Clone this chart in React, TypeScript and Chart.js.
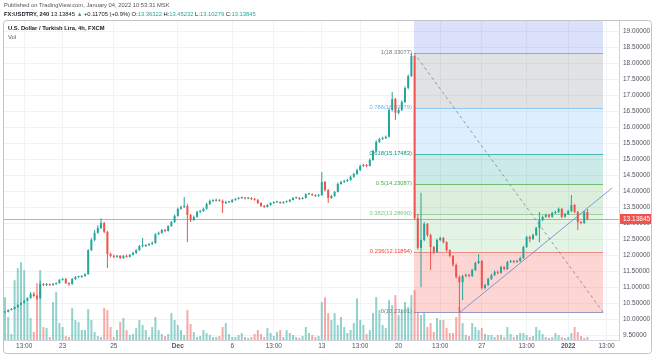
import React, { useEffect, useRef } from "react";
import { Chart, registerables } from "chart.js";
Chart.register(...registerables);

const FONT = '"Liberation Sans", Arial, Helvetica, sans-serif';

// ---- candle data (4h candles, index = candle number) ----
const firstOpen = 10.22;
const closes = [
  10.24, 10.30, 10.33, 10.39, 10.46, 10.52, 10.58, 10.67, 10.80, 10.74,
  10.67, 11.11, 11.08, 11.11, 11.08, 11.11, 11.14, 11.24, 11.27, 11.14,
  11.11, 11.27, 11.33, 11.33, 11.36, 11.42, 12.17, 12.49, 12.71, 12.86,
  13.02, 12.74, 12.05, 11.99, 11.96, 11.99, 11.92, 11.99, 11.96, 12.02,
  12.08, 12.17, 12.30, 12.30, 12.33, 12.36, 12.39, 12.67, 12.71, 12.80,
  12.77, 12.92, 13.05, 13.24, 13.46, 13.52, 13.55, 13.27, 13.11, 13.21,
  13.36, 13.39, 13.46, 13.61, 13.71, 13.71, 13.74, 13.71, 13.64, 13.67,
  13.67, 13.74, 13.77, 13.80, 13.80, 13.78, 13.80, 13.77, 13.74, 13.64,
  13.55, 13.52, 13.58, 13.64, 13.67, 13.67, 13.64, 13.67, 13.69, 13.74,
  13.80, 13.80, 13.77, 13.80, 13.92, 13.92, 13.89, 13.86, 13.89, 14.30,
  14.05, 13.80, 13.86, 13.99, 14.24, 14.30, 14.33, 14.36, 14.46, 14.55,
  14.67, 14.80, 14.83, 14.80, 14.99, 15.27, 15.55, 15.64, 15.67, 15.71,
  16.55, 16.89, 16.46, 16.55, 16.80, 17.24, 17.61, 18.24, 13.17, 12.24,
  12.49, 12.99, 12.64, 12.27, 12.11, 12.49, 12.55, 12.42, 12.17, 11.99,
  11.71, 11.33, 11.17, 11.36, 11.39, 11.36, 11.55, 11.77, 11.83, 10.99,
  11.08, 11.27, 11.39, 11.49, 11.46, 11.64, 11.58, 11.80, 11.83, 11.80,
  11.83, 11.92, 12.27, 12.58, 12.52, 12.64, 12.86, 13.11, 13.21, 13.27,
  13.21, 13.33, 13.36, 13.46, 13.21, 13.30, 13.39, 13.58, 13.36, 13.05,
  13.02, 13.36322, 13.13845,
];
const highs = [
  10.27, 10.32, 10.36, 10.41, 10.48, 10.55, 10.61, 10.70, 10.86, 10.86,
  10.77, 11.21, 11.14, 11.14, 11.13, 11.14, 11.17, 11.27, 11.30, 11.30,
  11.17, 11.30, 11.36, 11.37, 11.39, 11.45, 12.20, 12.55, 12.80, 12.95,
  13.17, 13.05, 12.77, 12.10, 12.03, 12.02, 12.02, 12.02, 12.03, 12.05,
  12.12, 12.20, 12.33, 12.55, 12.36, 12.40, 12.45, 12.70, 12.75, 12.84,
  12.83, 12.95, 13.08, 13.28, 13.50, 13.56, 13.83, 13.62, 13.30, 13.25,
  13.40, 13.43, 13.50, 13.65, 13.75, 13.75, 13.78, 13.77, 13.75, 13.71,
  13.71, 13.77, 13.80, 13.83, 13.84, 13.83, 13.83, 13.83, 13.80, 13.77,
  13.67, 13.58, 13.61, 13.67, 13.70, 13.71, 13.70, 13.70, 13.72, 13.77,
  13.83, 13.84, 13.83, 13.83, 13.95, 13.96, 13.95, 13.92, 13.93, 14.61,
  14.33, 14.08, 13.90, 14.02, 14.28, 14.34, 14.37, 14.40, 14.50, 14.59,
  14.71, 14.84, 14.87, 14.86, 15.03, 15.31, 15.60, 15.68, 15.71, 15.75,
  16.60, 17.11, 16.93, 16.60, 16.85, 17.29, 17.66, 18.33077, 18.26, 13.30,
  13.96, 13.05, 13.02, 12.68, 12.30, 12.53, 12.60, 12.58, 12.45, 12.20,
  12.02, 11.75, 11.38, 11.40, 11.44, 11.43, 11.59, 11.81, 12.05, 11.86,
  11.12, 11.31, 11.43, 11.53, 11.53, 11.68, 11.67, 11.84, 11.87, 11.86,
  11.87, 11.96, 12.31, 12.62, 12.62, 12.68, 12.90, 13.36, 13.25, 13.31,
  13.30, 13.37, 13.40, 13.50, 13.49, 13.34, 13.43, 13.89, 13.61, 13.39,
  13.08, 13.40, 13.45232,
];
const lows = [
  10.20, 10.22, 10.28, 10.31, 10.37, 10.44, 10.50, 10.56, 10.65, 10.70,
  10.61, 10.64, 11.04, 11.05, 11.05, 11.06, 11.09, 11.12, 11.21, 11.11,
  11.05, 11.09, 11.24, 11.30, 11.31, 11.34, 11.40, 12.14, 12.45, 12.68,
  12.83, 12.70, 11.61, 11.95, 11.92, 11.93, 11.89, 11.90, 11.93, 11.94,
  12.00, 12.05, 12.14, 12.26, 12.27, 12.30, 12.33, 12.37, 12.64, 12.68,
  12.73, 12.75, 12.90, 13.02, 13.21, 13.43, 13.49, 12.42, 13.05, 13.08,
  13.18, 13.33, 13.36, 13.44, 13.58, 13.67, 13.69, 13.68, 13.33, 13.61,
  13.64, 13.65, 13.71, 13.75, 13.77, 13.75, 13.76, 13.74, 13.71, 13.61,
  13.52, 13.49, 13.50, 13.56, 13.62, 13.64, 13.61, 13.62, 13.65, 13.67,
  13.72, 13.77, 13.74, 13.75, 13.78, 13.89, 13.86, 13.83, 13.84, 13.87,
  14.00, 13.64, 13.77, 13.84, 13.97, 14.21, 14.27, 14.30, 14.34, 14.43,
  14.52, 14.64, 14.77, 14.76, 14.78, 14.96, 15.24, 15.52, 15.61, 15.64,
  15.69, 16.50, 16.24, 16.42, 16.52, 16.77, 17.20, 17.58, 13.11, 12.18,
  11.02, 12.45, 12.58, 11.55, 12.05, 12.08, 12.45, 12.38, 12.12, 11.95,
  11.66, 11.28, 10.23101, 10.61, 11.32, 11.32, 11.33, 11.52, 11.74, 10.93,
  10.95, 11.05, 11.24, 11.36, 11.42, 11.43, 11.54, 11.55, 11.77, 11.76,
  11.77, 11.80, 11.89, 12.24, 12.42, 12.49, 12.61, 12.42, 13.08, 13.18,
  13.17, 13.18, 13.30, 13.33, 13.17, 13.18, 13.27, 13.36, 13.32, 12.80,
  12.98, 12.99, 13.10279,
];
const volumes = [
  43, 23, 6, 60, 72, 78, 70, 38, 22, 8,
  57, 70, 13, 12, 3, 38, 48, 17, 13, 4,
  3, 32, 20, 18, 10, 10, 31, 20, 8, 4,
  3, 32, 30, 13, 3, 10, 18, 22, 10, 5,
  6, 12, 20, 15, 10, 3, 13, 23, 10, 6,
  4, 6, 27, 20, 15, 10, 5, 30, 16, 8,
  3, 4, 10, 7, 5, 3, 3, 4, 13, 17,
  6, 3, 3, 5, 7, 3, 2, 3, 6, 10,
  6, 3, 12, 7, 4, 8, 10, 3, 10, 7,
  5, 3, 2, 4, 13, 7, 5, 3, 4, 38,
  43, 27, 20, 27, 15, 23, 13, 7, 10, 17,
  42, 20, 15, 6, 10, 27, 43, 30, 15, 12,
  40, 35, 45, 25, 30, 38, 33, 45, 50, 27,
  25, 27, 13, 17, 8, 22, 20, 20, 12, 7,
  7, 23, 33, 17, 5, 4, 17, 13, 10, 12,
  6, 5, 5, 3, 5, 5, 3, 13, 6, 3,
  5, 7, 7, 5, 3, 4, 13, 10, 6, 3,
  2, 3, 7, 5, 3, 2, 3, 7, 13, 8,
  4, 2, 3,
];
const opens = closes.map((c, i) => (i === 0 ? firstOpen : closes[i - 1]));

// ---- axes ----
const timeTickIndex = [6, 18, 34, 54, 71, 84, 99, 111, 123, 136, 149, 163, 176, 188];
const timeTickLabels = ["13:00", "23", "25", "Dec", "6", "13:00", "13", "13:00", "20", "13:00", "27", "13:00", "2022", "13:00"];
const boldTimeLabels = ["Dec", "2022"];
const priceTicks = [9.5, 10, 10.5, 11, 11.5, 12, 12.5, 13, 13.5, 14, 14.5, 15, 15.5, 16, 16.5, 17, 17.5, 18, 18.5, 19];
const priceMin = 9.362;
const priceMax = 19.33;
const indexMin = -0.3125;
const indexMax = 191.875;
const volumeMax = 320;

// ---- drawings ----
const fibRatios = [0, 0.236, 0.382, 0.5, 0.618, 0.786, 1];
const fibPrices = [10.23101, 12.11894, 13.2869, 14.23087, 15.17483, 16.59779, 18.33077];
const fibExtensionPrice = 23.3366;
const fibStartIndex = 127.8;
const fibEndIndex = 186.9;
const trendStart = { x: 142.2, y: 10.23101 };
const trendEnd = { x: 189.7, y: 14.11 };
const lastPrice = 13.13845;

const fibBandColors = [
  "rgba(244,67,54,0.22)",
  "rgba(129,199,132,0.22)",
  "rgba(76,175,80,0.2)",
  "rgba(0,150,136,0.2)",
  "rgba(100,181,246,0.22)",
  "rgba(120,123,134,0.22)",
  "rgba(75,105,230,0.2)",
];
const fibLineColors = ["#9598c0", "#f08a85", "#9fd0a1", "#6fbf73", "#4db6ac", "#90c8f5", "#9aa3d8"];
const fibTextColors = ["#787b86", "#f44336", "#81c784", "#4caf50", "#009688", "#64b5f6", "#787b86"];

const UP = "#26a69a";
const DOWN = "#ef5350";
const UP_VOL = "rgba(38,166,154,0.5)";
const DOWN_VOL = "rgba(239,83,80,0.5)";

const overlayPlugin = {
  id: "tvOverlays",
  beforeDatasetsDraw(chart: any) {
    const { ctx, chartArea: a, scales } = chart;
    const xs = scales.x;
    const ys = scales.y;
    ctx.save();
    ctx.beginPath();
    ctx.rect(a.left, a.top, a.right - a.left, a.bottom - a.top);
    ctx.clip();
    const x1 = xs.getPixelForValue(fibStartIndex);
    const x2 = xs.getPixelForValue(fibEndIndex);
    const lv = [...fibPrices, fibExtensionPrice];
    for (let k = 0; k < lv.length - 1; k++) {
      const yLo = ys.getPixelForValue(lv[k]);
      const yHi = ys.getPixelForValue(lv[k + 1]);
      ctx.fillStyle = fibBandColors[k];
      ctx.fillRect(x1, yHi, x2 - x1, yLo - yHi);
    }
    ctx.lineWidth = 1;
    ctx.font = `5.8px ${FONT}`;
    ctx.textAlign = "right";
    ctx.textBaseline = "bottom";
    fibPrices.forEach((p, k) => {
      const yy = Math.round(ys.getPixelForValue(p)) + 0.5;
      ctx.strokeStyle = fibLineColors[k];
      ctx.beginPath();
      ctx.moveTo(x1, yy);
      ctx.lineTo(x2, yy);
      ctx.stroke();
      ctx.fillStyle = fibTextColors[k];
      ctx.fillText(`${fibRatios[k]}(${p.toFixed(5)})`, x1 - 2, yy + 1.5);
    });
    // last price line
    const py = Math.round(ys.getPixelForValue(lastPrice)) + 0.5;
    ctx.strokeStyle = "rgba(239,83,80,0.6)";
    ctx.beginPath();
    ctx.moveTo(a.left, py);
    ctx.lineTo(a.right, py);
    ctx.stroke();
    ctx.restore();
  },
  afterDatasetsDraw(chart: any) {
    const { ctx, chartArea: a, scales } = chart;
    const xs = scales.x;
    const ys = scales.y;
    ctx.save();
    ctx.beginPath();
    ctx.rect(a.left, a.top, a.right - a.left, a.bottom - a.top);
    ctx.clip();
    // fib diagonal
    ctx.strokeStyle = "rgba(120,123,134,0.75)";
    ctx.lineWidth = 1;
    ctx.setLineDash([3, 3]);
    ctx.beginPath();
    ctx.moveTo(xs.getPixelForValue(fibStartIndex), ys.getPixelForValue(fibPrices[6]));
    ctx.lineTo(xs.getPixelForValue(fibEndIndex), ys.getPixelForValue(fibPrices[0]));
    ctx.stroke();
    ctx.setLineDash([]);
    // trend line
    ctx.strokeStyle = "rgba(95,125,205,0.75)";
    ctx.beginPath();
    ctx.moveTo(xs.getPixelForValue(trendStart.x), ys.getPixelForValue(trendStart.y));
    ctx.lineTo(xs.getPixelForValue(trendEnd.x), ys.getPixelForValue(trendEnd.y));
    ctx.stroke();
    ctx.restore();
  },
  afterDraw(chart: any) {
    const { ctx, chartArea: a, scales } = chart;
    const ys = scales.y;
    ctx.save();
    const py = ys.getPixelForValue(lastPrice);
    ctx.fillStyle = DOWN;
    ctx.fillRect(a.right + 1, Math.round(py) - 5, 32, 10);
    ctx.fillStyle = "#ffffff";
    ctx.font = `6.5px ${FONT}`;
    ctx.textAlign = "left";
    ctx.textBaseline = "middle";
    ctx.fillText(lastPrice.toFixed(5), a.right + 4, Math.round(py));
    // frame
    ctx.strokeStyle = "#c4c4c4";
    ctx.lineWidth = 1;
    ctx.beginPath();
    if ((ctx as any).roundRect) {
      (ctx as any).roundRect(3.5, 20.5, 648, 333, 3);
    } else {
      ctx.rect(3.5, 20.5, 648, 333);
    }
    ctx.stroke();
    ctx.restore();
  },
};

export default function App() {
  const canvasRef = useRef<HTMLCanvasElement | null>(null);

  useEffect(() => {
    if (!canvasRef.current) return;
    const up = closes.map((c, i) => c >= opens[i]);
    const chart = new Chart(canvasRef.current, {
      type: "bar",
      data: {
        datasets: [
          {
            label: "body",
            data: closes.map((c, i) => ({ x: i, y: [opens[i], c] })) as any,
            backgroundColor: up.map((u) => (u ? UP : DOWN)),
            barThickness: 2,
            minBarLength: 1,
            grouped: false,
            inflateAmount: 0,
            borderWidth: 0,
            order: 0,
            yAxisID: "y",
          } as any,
          {
            label: "wick",
            data: highs.map((h, i) => ({ x: i, y: [lows[i], h] })) as any,
            backgroundColor: up.map((u) => (u ? UP : DOWN)),
            barThickness: 1,
            grouped: false,
            inflateAmount: 0,
            borderWidth: 0,
            order: 1,
            yAxisID: "y",
          } as any,
          {
            label: "Vol",
            data: volumes.map((v, i) => ({ x: i, y: v })) as any,
            backgroundColor: up.map((u) => (u ? UP_VOL : DOWN_VOL)),
            barThickness: 2,
            grouped: false,
            inflateAmount: 0,
            borderWidth: 0,
            order: 2,
            yAxisID: "y2",
          } as any,
        ],
      },
      options: {
        animation: false,
        responsive: false,
        devicePixelRatio: 1,
        events: [],
        layout: { padding: { left: 4, top: 21, right: 0, bottom: 3 } },
        plugins: { legend: { display: false }, tooltip: { enabled: false } },
        scales: {
          x: {
            type: "linear",
            min: indexMin,
            max: indexMax,
            offset: false,
            grid: { display: true, offset: false, color: "#f1f2f5", drawTicks: false },
            border: { display: true, color: "#d1d4dc" },
            ticks: {
              autoSkip: false,
              maxRotation: 0,
              padding: 2,
              color: "#50535e",
              font: (ctx: any) => ({
                family: FONT,
                size: 6.5,
                weight: boldTimeLabels.includes(timeTickLabels[ctx.index]) ? "bold" : "normal",
              }),
              callback: (_v: any, i: number) => timeTickLabels[i],
            },
            afterBuildTicks: (s: any) => {
              s.ticks = timeTickIndex.map((v) => ({ value: v }));
            },
            afterFit: (s: any) => {
              s.height = 13;
            },
          } as any,
          y: {
            position: "right",
            min: priceMin,
            max: priceMax,
            grid: { color: "#f1f2f5", drawTicks: false },
            border: { display: true, color: "#d1d4dc" },
            ticks: {
              padding: 4,
              color: "#50535e",
              font: { family: FONT, size: 6.5 },
              callback: (v: any) => Number(v).toFixed(5),
            },
            afterBuildTicks: (s: any) => {
              s.ticks = priceTicks.map((v) => ({ value: v }));
            },
            afterFit: (s: any) => {
              s.width = 35;
            },
          } as any,
          y2: { display: false, min: 0, max: volumeMax },
        },
      },
      plugins: [overlayPlugin],
    });
    return () => chart.destroy();
  }, []);

  const teal = { color: "#26a69a" };
  return (
    <div
      style={{
        position: "fixed",
        left: 0,
        top: 0,
        width: 654,
        height: 356,
        background: "#ffffff",
        fontFamily: FONT,
        overflow: "hidden",
      }}
    >
      <canvas ref={canvasRef} width={654} height={356} style={{ position: "absolute", left: 0, top: 0 }} />
      <div style={{ position: "absolute", left: 4, top: 2, fontSize: 5.8, lineHeight: "7px", color: "#555", whiteSpace: "nowrap" }}>
        Published on TradingView.com, January 04, 2022 10:53:31 MSK
      </div>
      <div style={{ position: "absolute", left: 4, top: 11, fontSize: 5.8, lineHeight: "7px", color: "#131722", whiteSpace: "nowrap" }}>
        <span style={{ fontWeight: "bold" }}>FX:USDTRY, 240</span> 13.13845 <span style={teal}>▲</span> +0.11705 (+0.9%) O:
        <span style={teal}>13.36322</span> H:<span style={teal}>13.45232</span> L:<span style={teal}>13.10279</span> C:
        <span style={teal}>13.13845</span>
      </div>
      <div style={{ position: "absolute", left: 8, top: 25, fontSize: 5.8, lineHeight: "7px", color: "#131722", fontWeight: "bold", whiteSpace: "nowrap" }}>
        U.S. Dollar / Turkish Lira, 4h, FXCM
      </div>
      <div style={{ position: "absolute", left: 8, top: 34, fontSize: 5.8, lineHeight: "7px", color: "#555", whiteSpace: "nowrap" }}>
        Vol
      </div>
    </div>
  );
}
